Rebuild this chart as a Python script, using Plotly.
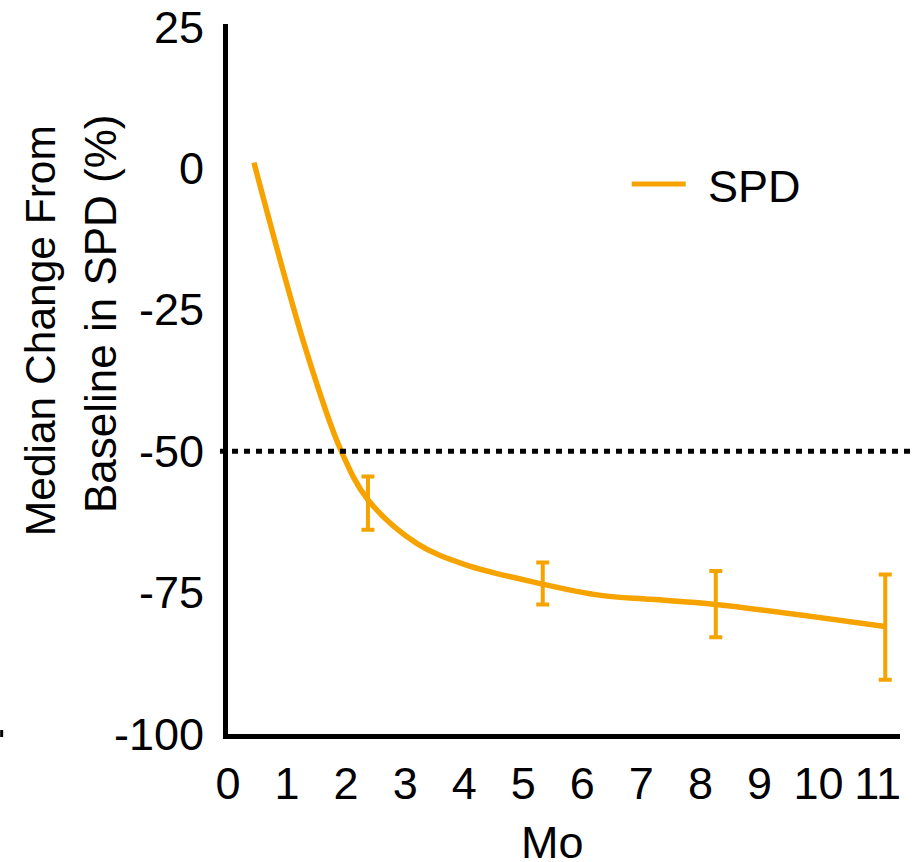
import plotly.graph_objects as go

# Median change from baseline in SPD (%) by month
months = [0.44, 1.32, 1.91, 2.37, 3.21, 4.0, 5.33, 6.31, 7.16, 8.26, 11.13]
spd_change = [1.0, -32.1, -49.8, -58.6, -66.4, -70.0, -73.5, -75.5, -76.2, -77.1, -81.0]

# Assessment months with error bars
err_months = [2.37, 5.33, 8.26, 11.13]
err_median = [-58.6, -73.5, -77.1, -81.0]
err_upper = [4.1, 3.8, 5.9, 9.2]
err_lower = [5.3, 3.6, 5.8, 9.4]

x_ticks = list(range(0, 12))
y_ticks = [-100, -75, -50, -25, 0, 25]
threshold = -50

ORANGE = "#F6A300"
FONT = "Liberation Sans, Arial, sans-serif"

L, R, T, B = 228, 14.5, 24, 128
W, H = 915, 862
PW, PH = W - L - R, H - T - B


def px_x(p):
    return (p - L) / PW


def px_y(p):
    return (H - B - p) / PH


fig = go.Figure()

fig.add_trace(go.Scatter(
    x=months, y=spd_change, mode="lines", name="SPD",
    line=dict(color=ORANGE, width=5.5, shape="spline", smoothing=1.0),
    showlegend=False,
))

fig.add_trace(go.Scatter(
    x=err_months, y=err_median, mode="markers",
    marker=dict(size=1, color="rgba(0,0,0,0)"),
    error_y=dict(type="data", symmetric=False, array=err_upper, arrayminus=err_lower,
                 color=ORANGE, thickness=4, width=6.5),
    showlegend=False, hoverinfo="skip",
))

# Reference line at -50%
fig.add_shape(type="line", xref="paper", yref="y",
              x0=px_x(220), x1=px_x(918), y0=threshold, y1=threshold,
              line=dict(color="black", width=5, dash="6px,6px"))

# Legend entry
fig.add_shape(type="line", xref="paper", yref="paper",
              x0=px_x(632), x1=px_x(686), y0=px_y(184), y1=px_y(184),
              line=dict(color=ORANGE, width=5))
fig.add_annotation(xref="paper", yref="paper", x=px_x(706), y=px_y(186),
                   text="SPD", showarrow=False, xanchor="left", yanchor="middle",
                   font=dict(size=45, color="black", family=FONT))

# Y-axis title (two rotated lines)
fig.add_annotation(xref="paper", yref="paper", x=px_x(40), y=px_y(331),
                   text="Median Change From", textangle=-90, showarrow=False,
                   xanchor="center", yanchor="middle",
                   font=dict(size=42.5, color="black", family=FONT))
fig.add_annotation(xref="paper", yref="paper", x=px_x(100), y=px_y(314),
                   text="Baseline in SPD (%)", textangle=-90, showarrow=False,
                   xanchor="center", yanchor="middle",
                   font=dict(size=44, color="black", family=FONT))

# X-axis title
fig.add_annotation(xref="paper", yref="paper", x=px_x(553), y=px_y(842),
                   text="Mo", showarrow=False, xanchor="center", yanchor="middle",
                   font=dict(size=45, color="black", family=FONT))

# Small stray mark at left edge
fig.add_shape(type="rect", xref="paper", yref="paper",
              x0=px_x(0), x1=px_x(3), y0=px_y(737), y1=px_y(730),
              line=dict(width=0), fillcolor="black")

fig.update_layout(
    width=W, height=H,
    margin=dict(l=L, r=R, t=T, b=B),
    paper_bgcolor="white", plot_bgcolor="white",
    font=dict(family=FONT, size=45, color="black"),
    showlegend=False,
)

fig.update_xaxes(
    range=[0, 11.38], tickvals=x_ticks, ticktext=[str(v) for v in x_ticks],
    showline=True, linecolor="black", linewidth=5, automargin=False,
    showgrid=False, zeroline=False, ticks="", ticklabelstandoff=6,
    tickfont=dict(size=45, family=FONT, color="black"),
)
fig.update_yaxes(
    range=[-100, 25.5], tickvals=y_ticks, ticktext=[str(v) for v in y_ticks],
    showline=True, linecolor="black", linewidth=5, automargin=False,
    showgrid=False, zeroline=False, ticks="", ticklabelstandoff=10,
    tickfont=dict(size=45, family=FONT, color="black"),
)

fig.write_html("out.html")
